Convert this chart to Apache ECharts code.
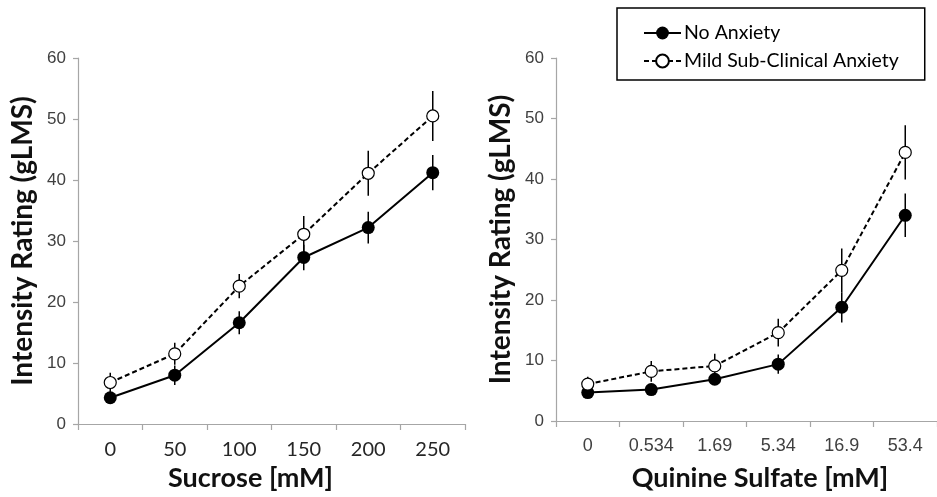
<!DOCTYPE html>
<html>
<head>
<meta charset="utf-8">
<script src="https://cdn.jsdelivr.net/npm/echarts@6/dist/echarts.min.js"></script>
<style>
html,body{margin:0;padding:0;background:#fff;}
#chart{width:937px;height:497px;}
</style>
</head>
<body>
<div id="chart"></div>
<script>
// ---- data ----
const sucroseLabels = ['0', '50', '100', '150', '200', '250'];
const quinineLabels = ['0', '0.534', '1.69', '5.34', '16.9', '53.4'];
const yTicksMin = 0, yTicksMax = 60, yTickStep = 10;

const seriesNames = ['No Anxiety', 'Mild Sub-Clinical Anxiety'];

const sucroseNoAnx    = [4.3, 8.0, 16.6, 27.3, 32.2, 41.2];
const sucroseNoAnxErr = [0.8, 1.6, 1.9, 2.1, 2.6, 2.9];
const sucroseMild     = [6.8, 11.5, 22.6, 31.1, 41.1, 50.5];
const sucroseMildErr  = [1.6, 1.8, 2.0, 3.0, 3.7, 4.1];

const quinineNoAnx    = [4.7, 5.2, 6.9, 9.4, 18.8, 34.0];
const quinineNoAnxErr = [0.6, 0.9, 0.8, 1.6, 2.5, 3.6];
const quinineMild     = [6.1, 8.2, 9.1, 14.6, 24.9, 44.4];
const quinineMildErr  = [1.2, 1.7, 2.0, 2.3, 3.6, 4.5];

const xTitles = ['Sucrose [mM]', 'Quinine Sulfate [mM]'];
const yTitle = 'Intensity Rating (gLMS)';

// ---- chart ----
const chart = echarts.init(document.getElementById('chart'), null, {renderer: 'canvas'});

const axisGray = '#a6a6a6';
const labelGray = '#404040';

function errData(vals, errs) {
  return vals.map((v, i) => [i, v - errs[i], v + errs[i]]);
}
function errSeries(idx, vals, errs) {
  return {
    type: 'custom',
    xAxisIndex: idx, yAxisIndex: idx,
    z: 1,
    silent: true,
    data: errData(vals, errs),
    renderItem: function (params, api) {
      const lo = api.coord([api.value(0), api.value(1)]);
      const hi = api.coord([api.value(0), api.value(2)]);
      return {
        type: 'line',
        shape: {x1: lo[0], y1: lo[1], x2: hi[0], y2: hi[1]},
        style: {stroke: '#000', lineWidth: 1.5}
      };
    }
  };
}
function lineSeries(name, idx, vals, filled) {
  return {
    name: name,
    type: 'line',
    xAxisIndex: idx, yAxisIndex: idx,
    z: 3,
    data: vals,
    symbol: 'circle',
    symbolSize: filled ? 13 : 12,
    showSymbol: true,
    lineStyle: {color: '#000', width: 2, type: filled ? 'solid' : [5, 3]},
    itemStyle: {color: filled ? '#000' : '#fff', borderColor: '#000', borderWidth: filled ? 0 : 1.2},
    emphasis: {disabled: true},
    animation: false
  };
}

function xAxisDef(idx, labels, title, labelFont, labelSize, namePad, nameGap) {
  return {
    type: 'category',
    gridIndex: idx,
    data: labels,
    boundaryGap: true,
    axisLine: {lineStyle: {color: axisGray, width: 1.2}},
    axisTick: {show: true, alignWithLabel: false, length: 6, lineStyle: {color: axisGray, width: 1.2}},
    axisLabel: {color: labelFont === 'Lato' ? '#262626' : labelGray, fontFamily: labelFont, fontSize: labelSize, margin: 16},
    splitLine: {show: false},
    name: title,
    nameLocation: 'middle',
    nameGap: nameGap,
    nameTextStyle: {fontFamily: 'Lato', fontWeight: 'bold', fontSize: 27, color: '#111', padding: namePad}
  };
}
function yAxisDef(idx) {
  return {
    type: 'value',
    gridIndex: idx,
    min: yTicksMin, max: yTicksMax, interval: yTickStep,
    axisLine: {show: true, lineStyle: {color: axisGray, width: 1.2}},
    axisTick: {show: true, length: 5, lineStyle: {color: axisGray, width: 1.2}},
    axisLabel: {color: labelGray, fontFamily: 'Liberation Sans', fontSize: 17, margin: 12},
    splitLine: {show: false},
    name: yTitle,
    nameLocation: 'middle',
    nameRotate: 90,
    nameGap: 41,
    nameTextStyle: {fontFamily: 'Lato', fontWeight: 'bold', fontSize: 28, color: '#111'}
  };
}

const option = {
  backgroundColor: '#fff',
  animation: false,
  grid: [
    {left: 78, top: 58, width: 387, height: 366},
    {left: 556, top: 58, width: 387, height: 366}
  ],
  legend: {
    data: seriesNames,
    orient: 'vertical',
    left: 617, top: 8,
    padding: [15, 26, 9, 26],
    itemGap: 8,
    itemWidth: 37, itemHeight: 16,
    borderColor: '#000', borderWidth: 1.5,
    textStyle: {fontFamily: 'Lato', fontSize: 19.5, lineHeight: 16, color: '#000', padding: [0, 0, 0, -2]},
    selectedMode: false
  },
  xAxis: [
    xAxisDef(0, sucroseLabels, xTitles[0], 'Lato', 20, [0, 42, 0, 0], 39),
    xAxisDef(1, quinineLabels, xTitles[1], 'Liberation Sans', 18, [0, 0, 0, 27], 44)
  ],
  yAxis: [yAxisDef(0), yAxisDef(1)],
  series: [
    errSeries(0, sucroseNoAnx, sucroseNoAnxErr),
    errSeries(0, sucroseMild, sucroseMildErr),
    errSeries(1, quinineNoAnx, quinineNoAnxErr),
    errSeries(1, quinineMild, quinineMildErr),
    lineSeries(seriesNames[0], 0, sucroseNoAnx, true),
    lineSeries(seriesNames[1], 0, sucroseMild, false),
    lineSeries(seriesNames[0], 1, quinineNoAnx, true),
    lineSeries(seriesNames[1], 1, quinineMild, false)
  ]
};
chart.setOption(option);
</script>
</body>
</html>
